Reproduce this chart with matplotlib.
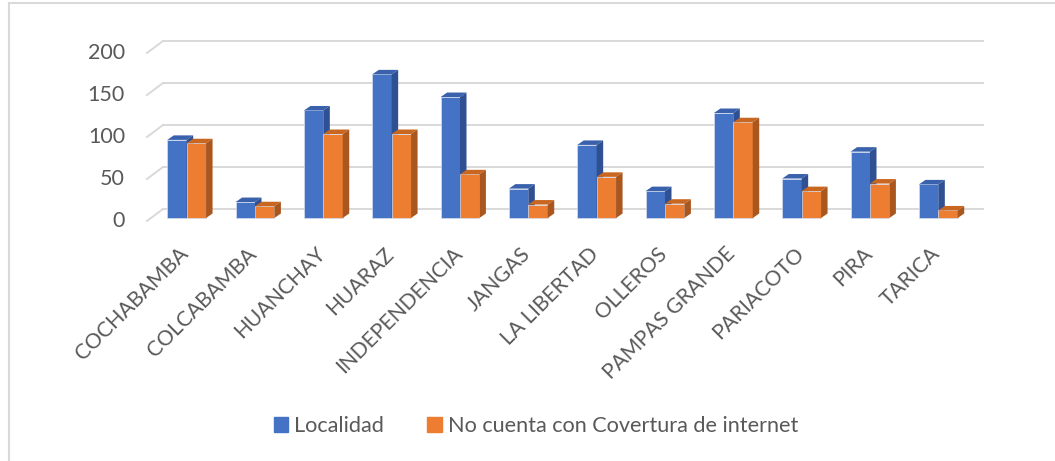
import matplotlib.pyplot as plt
from matplotlib.patches import Polygon, Rectangle
from matplotlib.lines import Line2D

# data
localidades = ['COCHABAMBA', 'COLCABAMBA', 'HUANCHAY', 'HUARAZ', 'INDEPENDENCIA',
               'JANGAS', 'LA LIBERTAD', 'OLLEROS', 'PAMPAS GRANDE', 'PARIACOTO',
               'PIRA', 'TARICA']
localidad = [93, 19, 128, 171, 144, 35, 87, 32, 125, 47, 79, 40]
sin_internet = [89, 14, 100, 100, 52, 16, 49, 17, 114, 32, 41, 9]
y_ticks = [0, 50, 100, 150, 200]
series_names = ['Localidad', 'No cuenta con Covertura de internet']

# style
W, H = 1055, 461
txt_col = '#595959'
grid_col = '#D9D9D9'
blue = {'front': '#4472C4', 'side': '#2F5193', 'top': '#3A62AC'}
orange = {'front': '#ED7D31', 'side': '#A9561F', 'top': '#C9661F'}
plt.rcParams['font.family'] = ['Lato', 'DejaVu Sans']

# front plane of the floor, in pixels
x0_px, x1_px = 147, 967
y0_px, y1_px = 221, 53
px_x = (x1_px - x0_px) / 12
px_y = (y0_px - y1_px) / 200

# 3d offsets converted to data units
wall_dx, wall_dy = 16 / px_x, 12 / px_y
bar_dx, bar_dy = 4 / px_x, 3 / px_y
depth_dx, depth_dy = 6.5 / px_x, 4.5 / px_y
bar_w = 19.4 / px_x

fig = plt.figure(figsize=(W / 100, H / 100), dpi=100)
ax = fig.add_axes([x0_px / W, (H - y0_px) / H, (x1_px - x0_px) / W, (y0_px - y1_px) / H])
ax.set_xlim(-0.5, 11.5)
ax.set_ylim(0, 200)
ax.axis('off')

# back wall grid + left wall diagonals
for v in y_ticks:
    ax.plot([-0.5 + wall_dx, 11.5 + wall_dx], [v + wall_dy, v + wall_dy],
            color=grid_col, lw=1.4, clip_on=False, zorder=1)
    ax.plot([-0.5, -0.5 + wall_dx], [v, v + wall_dy],
            color=grid_col, lw=1.4, clip_on=False, zorder=1)
    ax.text(-0.5 - 22 / px_x, v, str(v), ha='right', va='center',
            fontsize=15.5, color=txt_col)


def bar3d(x, h, cols):
    bx = x + bar_dx - 0.262
    by = bar_dy
    ax.add_patch(Rectangle((bx, by), bar_w, h, facecolor=cols['front'],
                           edgecolor='#D6DEEE', lw=0.5, clip_on=False, zorder=3))
    top = [(bx, by + h), (bx + bar_w, by + h),
           (bx + bar_w + depth_dx, by + h + depth_dy), (bx + depth_dx, by + h + depth_dy)]
    side = [(bx + bar_w, by), (bx + bar_w + depth_dx, by + depth_dy),
            (bx + bar_w + depth_dx, by + h + depth_dy), (bx + bar_w, by + h)]
    ax.add_patch(Polygon(top, closed=True, facecolor=cols['top'], edgecolor='none',
                         clip_on=False, zorder=3))
    ax.add_patch(Polygon(side, closed=True, facecolor=cols['side'], edgecolor='none',
                         clip_on=False, zorder=3))


for i in range(len(localidades)):
    bar3d(i, localidad[i], blue)
    bar3d(i + bar_w, sin_internet[i], orange)

# category labels
for i, name in enumerate(localidades):
    ax.text(i - 0.04, -27, name, rotation=45, rotation_mode='anchor',
            ha='right', va='top', fontsize=15.2, color=txt_col)

# legend
handles = [Rectangle((0, 0), 1, 1, color=blue['front']),
           Rectangle((0, 0), 1, 1, color=orange['front'])]
fig.legend(handles, series_names, loc='center', bbox_to_anchor=(536 / W, 1 - 426 / H),
           ncol=2, frameon=False, fontsize=15.6, labelcolor=txt_col,
           handlelength=0.65, handleheight=0.65, handletextpad=0.3, columnspacing=2.0)

# chart area border (cropped)
fig.add_artist(Line2D([9 / W, 1], [1 - 3 / H, 1 - 3 / H], color=grid_col, lw=1.5))
fig.add_artist(Line2D([9 / W, 9 / W], [0, 1 - 3 / H], color=grid_col, lw=1.5))

fig.savefig('out.png', dpi=100)
